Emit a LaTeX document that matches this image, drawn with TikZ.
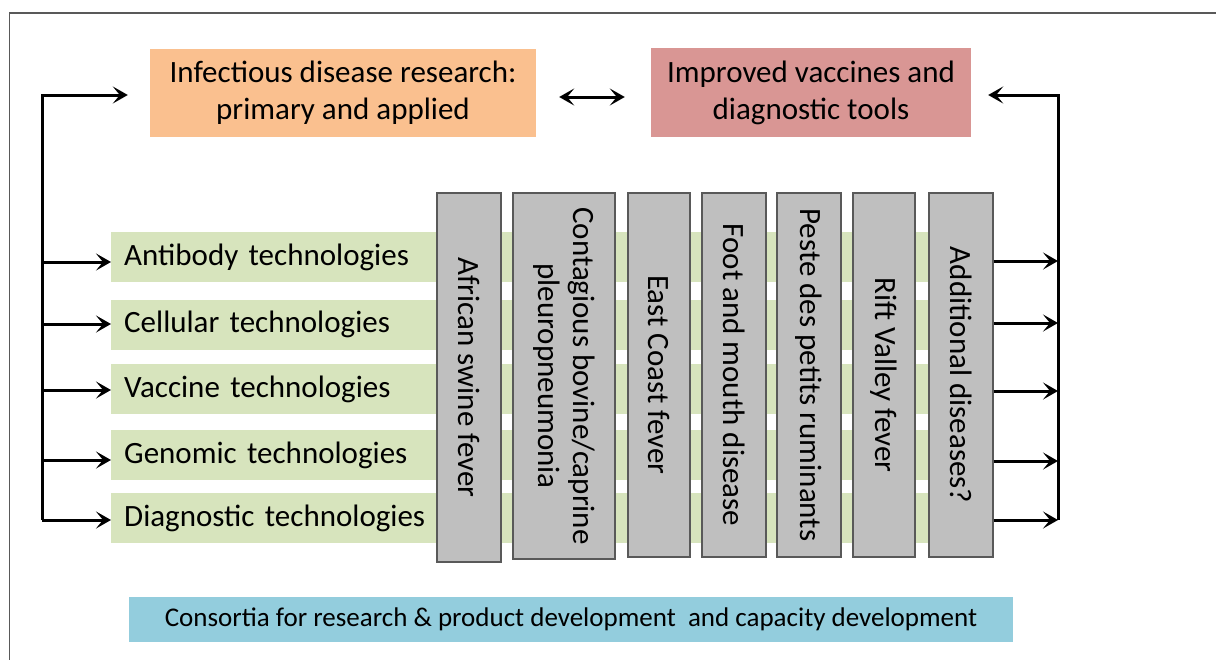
\documentclass[tikz,border=0pt]{standalone}
\usepackage{fontspec}
\setmainfont{Carlito}
\newfontfamily\barfont{Carlito}[WordSpace=0.45]
\usetikzlibrary{arrows.meta}
\definecolor{orangebox}{HTML}{FAC08F}
\definecolor{pinkbox}{HTML}{D99694}
\definecolor{greenbar}{HTML}{D7E4BD}
\definecolor{bluebox}{HTML}{93CDDD}
\definecolor{graybox}{HTML}{BFBFBF}
\definecolor{grayedge}{HTML}{595959}
\definecolor{framec}{HTML}{595959}
\tikzset{
  topbox/.style={inner sep=0pt, align=center, font=\fontsize{31}{37}\selectfont},
  barbox/.style={fill=greenbar, inner xsep=13pt, inner ysep=0pt, minimum height=50pt,
     text width=823pt, align=left, font=\barfont\fontsize{31}{36}\selectfont, anchor=west},
  disbox/.style={fill=graybox, draw=grayedge, line width=1.3pt, inner sep=0pt},
  distext/.style={rotate=-90, align=center, inner sep=0pt, font=\fontsize{31}{35}\selectfont},
  arr/.style={line width=3pt, -{Stealth[length=15pt,width=17pt,inset=7pt]}, line join=miter},
  darr/.style={line width=3pt, {Stealth[length=15pt,width=17pt,inset=7pt]}-{Stealth[length=15pt,width=17pt,inset=7pt]}},
}
\begin{document}
\begin{tikzpicture}[x=1pt,y=-1pt]
\useasboundingbox (0,0) rectangle (1216,659);
% frame
\draw[framec, line width=1.6pt] (9.5,662) -- (9.5,13) -- (1220,13);

% top boxes
\node[topbox, fill=orangebox, minimum width=386pt, minimum height=88pt] (res) at (343,93) {Infectious disease research:\\primary and applied};
\node[topbox, fill=pinkbox, minimum width=320pt, minimum height=89pt] (vac) at (811,92.5) {Improved vaccines and\\diagnostic tools};

% green bars
\node[barbox] (b1) at (111,257) {Antibody technologies};
\node[barbox] (b2) at (111,324.5) {Cellular technologies};
\node[barbox] (b3) at (111,389) {Vaccine technologies};
\node[barbox] (b4) at (111,455) {Genomic technologies};
\node[barbox] (b5) at (111,518) {Diagnostic technologies};

% disease boxes
\node[disbox, minimum width=64pt, minimum height=369pt] (d1) at (469,377.5) {};
\node[disbox, minimum width=102pt, minimum height=366pt] (d2) at (564,376) {};
\node[disbox, minimum width=62pt, minimum height=364pt] (d3) at (659,375) {};
\node[disbox, minimum width=64pt, minimum height=364pt] (d4) at (734,375) {};
\node[disbox, minimum width=64pt, minimum height=364pt] (d5) at (809,375) {};
\node[disbox, minimum width=62pt, minimum height=364pt] (d6) at (884,375) {};
\node[disbox, minimum width=64pt, minimum height=364pt] (d7) at (961,375) {};
\node[distext] (t1) at (d1.center) {African swine fever};
\node[distext] (t2) at (d2.center) {Contagious bovine/caprine\\pleuropneumonia};
\node[distext] (t3) at (d3.center) {East Coast fever};
\node[distext] (t4) at (d4.center) {Foot and mouth disease};
\node[distext] (t5) at (d5.center) {Peste des petits ruminants};
\node[distext] (t6) at (d6.center) {Rift Valley fever};
\node[distext] (t7) at (d7.center) {Additional diseases?};

% bottom box
\node[fill=bluebox, minimum width=884pt, minimum height=45pt, inner sep=0pt,
  font=\fontsize{27}{31}\selectfont] (cons) at (571,619.5) {Consortia for research \& product development\ \ and capacity development};

% left spine
\coordinate (Ltop) at (42,95);
\coordinate (L1) at (42,262);
\coordinate (L2) at (42,324);
\coordinate (L3) at (42,390);
\coordinate (L4) at (42,460);
\coordinate (L5) at (42,520);
\draw[arr, shorten >=22pt] (L5) -- (Ltop) -- (Ltop -| res.west);
\foreach \i in {1,...,5} \draw[arr] (L\i) -- (L\i -| b\i.west);

% right spine
\coordinate (Rtop) at (1058,95);
\coordinate (R1) at (1058,261);
\coordinate (R2) at (1058,323);
\coordinate (R3) at (1058,391);
\coordinate (R4) at (1058,461);
\coordinate (R5) at (1058,520);
\draw[arr, shorten >=17pt] (R5) -- (Rtop) -- (Rtop -| vac.east);
\foreach \i in {1,...,5} \draw[arr] (R\i -| d7.east) -- (R\i);

% double arrow
\draw[darr, shorten <=23pt, shorten >=26pt] (res.east |- 0,97) -- (vac.west |- 0,97);
\end{tikzpicture}
\end{document}
